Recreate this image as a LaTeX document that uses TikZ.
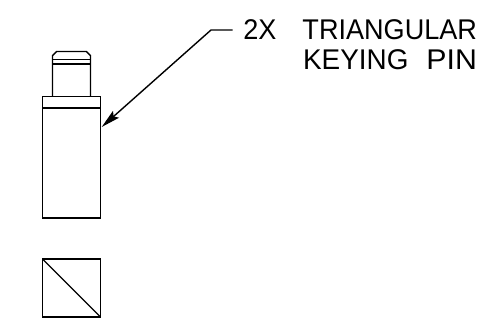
\documentclass[tikz,border=0pt]{standalone}
\usepackage{fontspec}
\setmainfont{Liberation Sans}[FakeStretch=0.95]
\usetikzlibrary{arrows.meta}
\tikzset{
  part/.style={draw=black,line width=1.4pt,line join=miter},
  leader/.style={draw=black,line width=1.4pt},
  callout/.style={inner sep=0pt,outer sep=0pt,anchor=base east,font=\fontsize{28.5}{28.5}\selectfont,text=black},
}
\begin{document}
\begin{tikzpicture}[x=1pt,y=-1pt]
\useasboundingbox (0,0) rectangle (495,320);
% body
\draw[part] (42.5,96.5) rectangle (100.5,218);
\draw[part] (42.5,108) -- (100.5,108);
% pin
\draw[part] (52.5,96.5) -- (52.5,55.7) -- (56.7,51.5) -- (86.3,51.5) -- (90.5,55.7) -- (90.5,96.5);
\draw[part,line width=1.7pt] (52.5,59.5) -- (90.5,59.5);
\draw[part,line width=1.7pt] (52.5,63.7) -- (90.5,63.7);
% square
\draw[part] (42.5,259) rectangle (100.5,317);
\draw[part] (42.5,259) -- (100.5,317);
% labels
\node[callout] (line1) at (477,39.5) {2X\hspace{26pt}TRIANGULAR};
\node[callout] (line2) at (477,69.5) {\scalebox{1.03}[1]{KEYING}\hspace{18pt}\scalebox{1.12}[1]{PIN}};
\coordinate (tip) at (101.7,127);
\coordinate (bend) at (211,30);
\coordinate (tail) at (232.5,30);
\draw[leader,-{Stealth[length=19pt,width=9pt,inset=3pt]}] (tail) -- (bend) -- (tip);
\end{tikzpicture}
\end{document}
